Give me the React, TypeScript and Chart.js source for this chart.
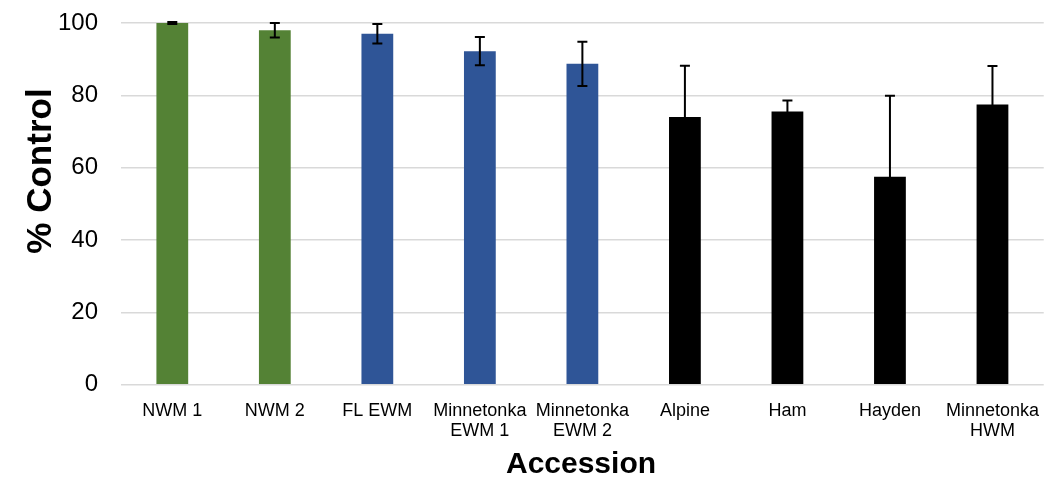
import React, { useEffect, useRef } from "react";
import { Chart, registerables } from "chart.js";

Chart.register(...registerables);

const categories: (string | string[])[] = [
  "NWM 1",
  "NWM 2",
  "FL EWM",
  ["Minnetonka", "EWM 1"],
  ["Minnetonka", "EWM 2"],
  "Alpine",
  "Ham",
  "Hayden",
  ["Minnetonka", "HWM"],
];
const controlValues = [100, 98, 97, 92.2, 88.7, 74, 75.5, 57.5, 77.5];
const controlErrors = [0.3, 2, 2.7, 3.9, 6.1, 14.2, 3.1, 22.4, 10.6];
const barColors = [
  "#548235",
  "#548235",
  "#2F5597",
  "#2F5597",
  "#2F5597",
  "#000000",
  "#000000",
  "#000000",
  "#000000",
];
const yTicks = [0, 20, 40, 60, 80, 100];
const yTitle = "% Control";
const xTitle = "Accession";

const FONT = "'Liberation Sans', Arial, Helvetica, sans-serif";

const errorBarPlugin = {
  id: "errorBars",
  afterDatasetsDraw(chart: any) {
    const ctx = chart.ctx;
    const meta = chart.getDatasetMeta(0);
    const y = chart.scales.y;
    ctx.save();
    ctx.strokeStyle = "#000000";
    ctx.lineWidth = 2;
    meta.data.forEach((bar: any, i: number) => {
      const v = controlValues[i];
      const e = controlErrors[i];
      const x = bar.x;
      const yTop = y.getPixelForValue(v + e);
      const yBot = y.getPixelForValue(v - e);
      ctx.beginPath();
      ctx.moveTo(x, yTop);
      ctx.lineTo(x, yBot);
      ctx.moveTo(x - 5, yTop);
      ctx.lineTo(x + 5, yTop);
      ctx.moveTo(x - 5, yBot);
      ctx.lineTo(x + 5, yBot);
      ctx.stroke();
    });
    ctx.restore();
  },
};

const titlePlugin = {
  id: "axisTitles",
  afterDraw(chart: any) {
    const ctx = chart.ctx;
    ctx.save();
    ctx.fillStyle = "#000000";
    ctx.font = `bold 30px ${FONT}`;
    ctx.textAlign = "center";
    ctx.textBaseline = "alphabetic";
    ctx.fillText(xTitle, 581, 473);
    ctx.translate(51, 171);
    ctx.rotate(-Math.PI / 2);
    ctx.font = `bold 35px ${FONT}`;
    ctx.fillText(yTitle, 0, 0);
    ctx.restore();
  },
};

export default function App() {
  const ref = useRef<HTMLCanvasElement | null>(null);
  useEffect(() => {
    document.body.style.margin = "0";
    const canvas = ref.current;
    if (!canvas) return;
    const chart = new Chart(canvas, {
      type: "bar",
      data: {
        labels: categories,
        datasets: [
          {
            data: controlValues,
            backgroundColor: barColors,
            borderWidth: 0,
            categoryPercentage: 1,
            barPercentage: 0.31,
          },
        ],
      },
      options: {
        animation: false,
        responsive: false,
        maintainAspectRatio: false,
        layout: { padding: { left: 35, right: 0, top: 23, bottom: 31 } },
        plugins: {
          legend: { display: false },
          tooltip: { enabled: false },
        },
        scales: {
          x: {
            grid: { display: false },
            border: { display: false },
            ticks: {
              color: "#000000",
              font: { family: FONT, size: 18, lineHeight: 1.12 },
              maxRotation: 0,
              minRotation: 0,
              autoSkip: false,
              padding: 8,
            },
          },
          y: {
            min: 0,
            max: 100,
            afterBuildTicks(axis: any) {
              axis.ticks = yTicks.map((v) => ({ value: v }));
            },
            afterFit(axis: any) {
              axis.paddingTop = 0;
              axis.paddingBottom = 0;
            },
            grid: { color: "#d9d9d9", lineWidth: 1.5, drawTicks: false },
            border: { display: false },
            ticks: {
              color: "#000000",
              font: { family: FONT, size: 24 },
              padding: 23,
            },
          },
        },
      },
      plugins: [errorBarPlugin, titlePlugin],
    });
    return () => chart.destroy();
  }, []);
  return <canvas ref={ref} width={1047} height={480} style={{ display: "block" }} />;
}
